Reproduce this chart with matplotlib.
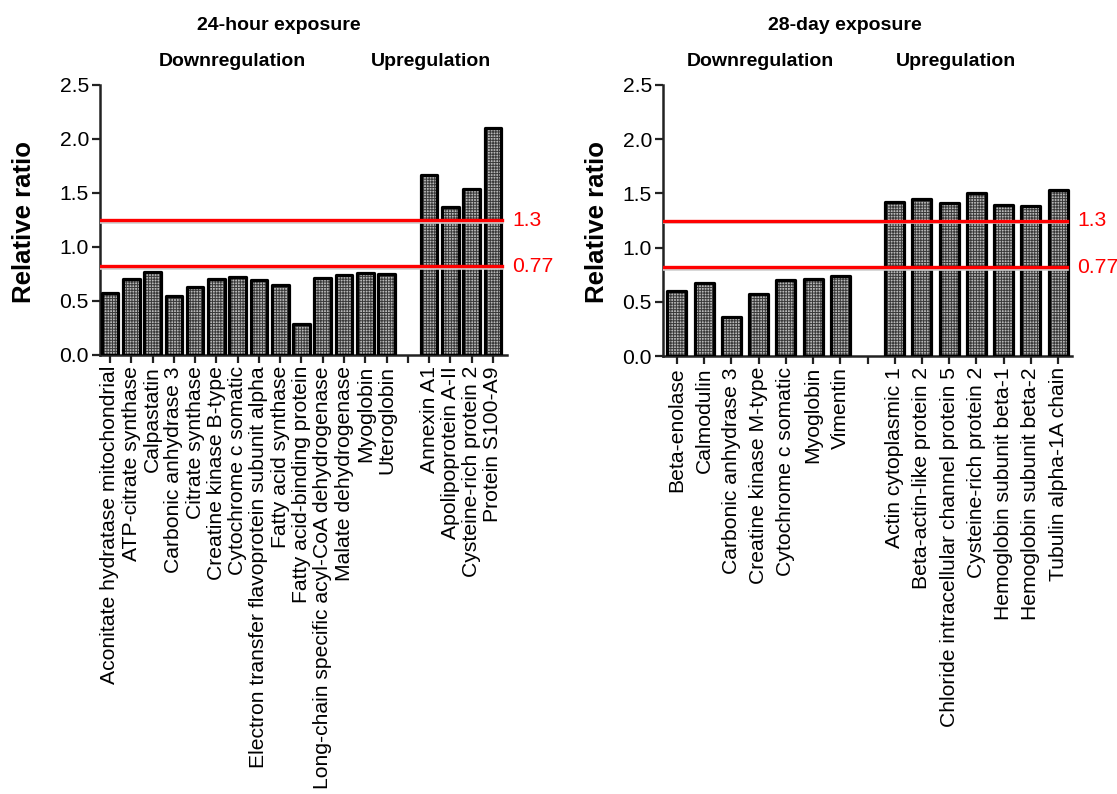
import matplotlib
matplotlib.use("Agg")
import matplotlib.pyplot as plt
import numpy as np

plt.rcParams['font.family'] = ['Liberation Sans', 'DejaVu Sans']
plt.rcParams['hatch.linewidth'] = 0.7

# ---- data ----
down_24h = ["Aconitate hydratase mitochondrial", "ATP-citrate synthase", "Calpastatin",
            "Carbonic anhydrase 3", "Citrate synthase", "Creatine kinase B-type",
            "Cytochrome c somatic", "Electron transfer flavoprotein subunit alpha",
            "Fatty acid synthase", "Fatty acid-binding protein",
            "Long-chain specific acyl-CoA dehydrogenase", "Malate dehydrogenase",
            "Myoglobin", "Uteroglobin"]
down_24h_vals = [0.57, 0.70, 0.77, 0.55, 0.63, 0.70, 0.72, 0.69, 0.65, 0.29, 0.71, 0.74, 0.76, 0.75]
up_24h = ["Annexin A1", "Apolipoprotein A-II", "Cysteine-rich protein 2", "Protein S100-A9"]
up_24h_vals = [1.67, 1.37, 1.54, 2.10]

down_28d = ["Beta-enolase", "Calmodulin", "Carbonic anhydrase 3", "Creatine kinase M-type",
            "Cytochrome c somatic", "Myoglobin", "Vimentin"]
down_28d_vals = [0.60, 0.67, 0.36, 0.57, 0.70, 0.71, 0.74]
up_28d = ["Actin cytoplasmic 1", "Beta-actin-like protein 2",
          "Chloride intracellular channel protein 5", "Cysteine-rich protein 2",
          "Hemoglobin subunit beta-1", "Hemoglobin subunit beta-2", "Tubulin alpha-1A chain"]
up_28d_vals = [1.42, 1.45, 1.41, 1.50, 1.39, 1.38, 1.53]

threshold_pos = [1.25, 0.82]
threshold_labels = ["1.3", "0.77"]
yticks = [0.0, 0.5, 1.0, 1.5, 2.0, 2.5]

W, H = 1117, 794
fig = plt.figure(figsize=(W / 100, H / 100), dpi=100)
FS = 15.2


def panel(rect, down, dvals, up, uvals, xlim, width, title, title_x, down_x, up_x, ylab_x):
    ax = fig.add_axes(rect)
    n_d = len(down)
    xd = np.arange(n_d)
    xu = np.arange(len(up)) + n_d + 1
    x_all = np.concatenate([xd, xu])
    v_all = list(dvals) + list(uvals)
    ax.bar(x_all, v_all, width=width, color='#b8b8b8', edgecolor='#3a3a3a',
           hatch='++++++', linewidth=0, zorder=2)
    ax.bar(x_all, v_all, width=width, facecolor='none', edgecolor='black',
           linewidth=2.3, zorder=3, joinstyle='round')
    for y, lab in zip(threshold_pos, threshold_labels):
        ax.axhline(y - 0.014, xmin=0.0, xmax=0.988, color='#cfcfcf', lw=2.6, zorder=3.5)
        ax.axhline(y, xmin=0.0, xmax=0.988, color='#ff0000', lw=2.4, zorder=4)
        ax.text(1.012, y, lab, transform=ax.get_yaxis_transform(), color='#ff0000',
                fontsize=FS, va='center', ha='left')
    ticks = list(xd) + [n_d] + list(xu)
    labels = list(down) + [""] + list(up)
    ax.set_xticks(ticks)
    ax.set_xticklabels(labels, rotation=90, fontsize=FS)
    ax.set_xlim(*xlim)
    ax.set_ylim(0, 2.5)
    ax.set_yticks(yticks)
    ax.set_yticklabels([f"{t:.1f}" for t in yticks], fontsize=FS)
    for s in ['top', 'right']:
        ax.spines[s].set_visible(False)
    for s in ['left', 'bottom']:
        ax.spines[s].set_linewidth(1.8)
        ax.spines[s].set_color('#222222')
    ax.tick_params(direction='out', length=6, width=1.6, color='#222222', pad=2)
    fig.text(title_x / W, 1 - 25 / H, title, fontsize=14, fontweight='bold', ha='center', va='center')
    fig.text(down_x / W, 1 - 62 / H, "Downregulation", fontsize=14, fontweight='bold', ha='center', va='center')
    fig.text(up_x / W, 1 - 62 / H, "Upregulation", fontsize=14, fontweight='bold', ha='center', va='center')
    fig.text(ylab_x / W, 1 - 222 / H, "Relative ratio", fontsize=18.5, fontweight='bold',
             rotation=90, ha='center', va='center')
    return ax


panel([100 / W, 1 - 355 / H, 407 / W, 270 / H], down_24h, down_24h_vals, up_24h, up_24h_vals,
      (-0.47, 18.66), 0.78, "24-hour exposure", 279, 232, 431, 24)
panel([663 / W, 1 - 356 / H, 409 / W, 271 / H], down_28d, down_28d_vals, up_28d, up_28d_vals,
      (-0.51, 14.51), 0.70, "28-day exposure", 845, 760, 956, 597)

fig.savefig("out.png", dpi=100)
